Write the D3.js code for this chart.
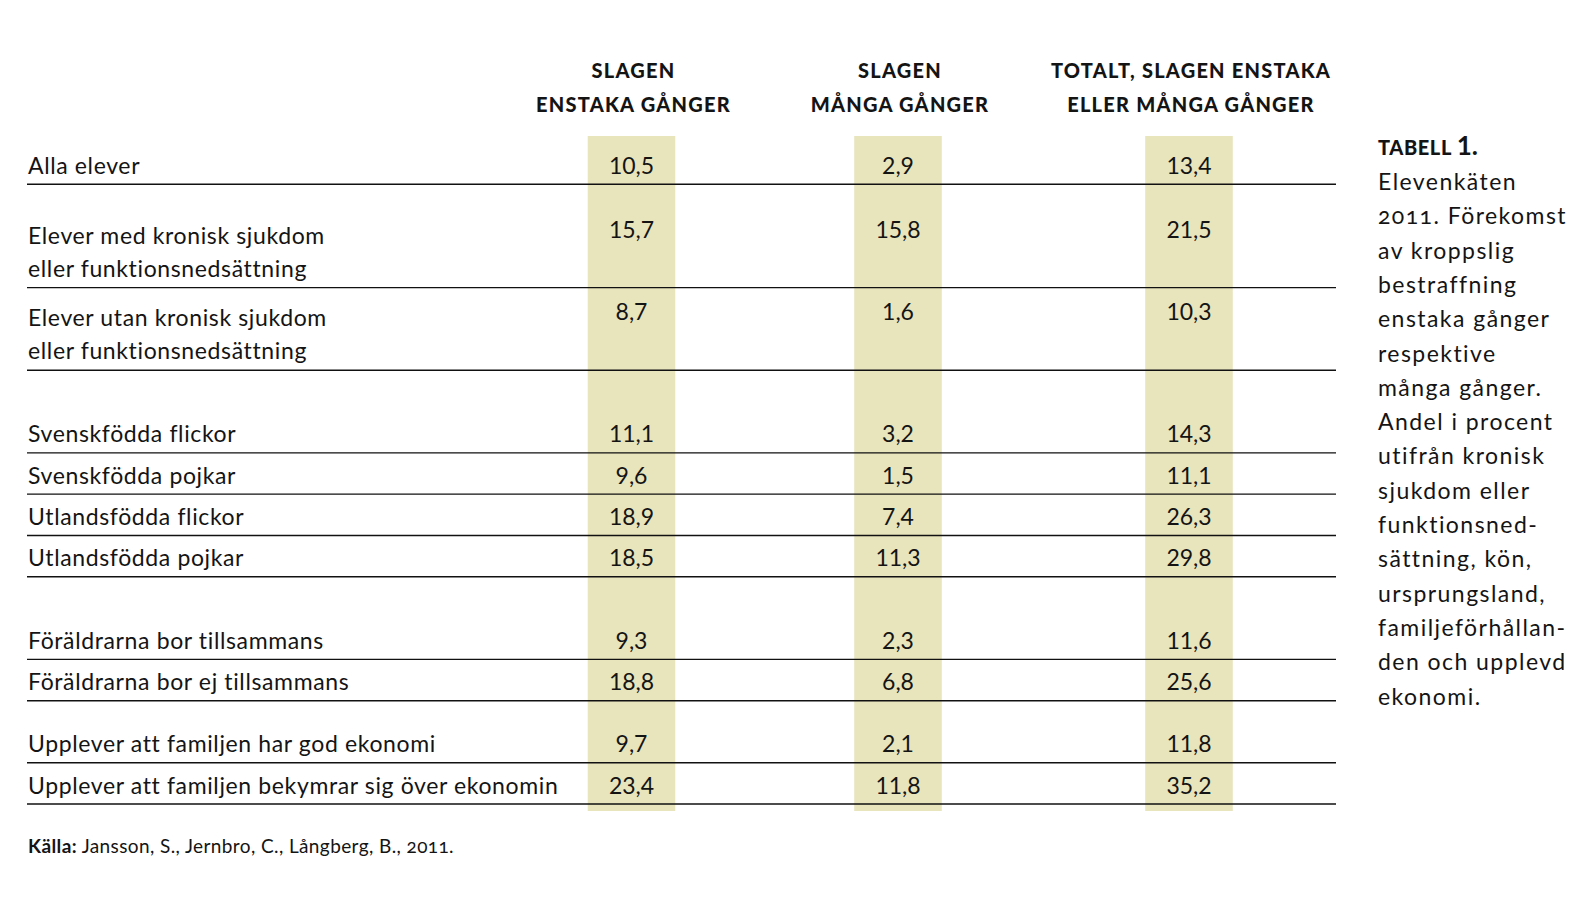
<!DOCTYPE html>
<html><head><meta charset="utf-8">
<script src="https://cdn.jsdelivr.net/npm/d3@7"></script>
<style>
body{margin:0;background:#fff}
svg{display:block}
text{font-family:Lato,"Open Sans",sans-serif;fill:#141414}
.onum{font-variant-numeric:oldstyle-nums}
</style>
</head><body>
<svg id="chart" width="1587" height="904"></svg>
<script>
// ---- data ----
const categories = [
  "Alla elever",
  "Elever med kronisk sjukdom\neller funktionsnedsättning",
  "Elever utan kronisk sjukdom\neller funktionsnedsättning",
  "Svenskfödda flickor",
  "Svenskfödda pojkar",
  "Utlandsfödda flickor",
  "Utlandsfödda pojkar",
  "Föräldrarna bor tillsammans",
  "Föräldrarna bor ej tillsammans",
  "Upplever att familjen har god ekonomi",
  "Upplever att familjen bekymrar sig över ekonomin"
];
const groups = [0, 1, 1, 2, 2, 2, 2, 3, 3, 4, 4];
const slagenEnstaka = [10.5, 15.7, 8.7, 11.1, 9.6, 18.9, 18.5, 9.3, 18.8, 9.7, 23.4];
const slagenManga   = [2.9, 15.8, 1.6, 3.2, 1.5, 7.4, 11.3, 2.3, 6.8, 2.1, 11.8];
const totalt        = [13.4, 21.5, 10.3, 14.3, 11.1, 26.3, 29.8, 11.6, 25.6, 11.8, 35.2];
const columnHeaders = [
  ["SLAGEN", "ENSTAKA GÅNGER"],
  ["SLAGEN", "MÅNGA GÅNGER"],
  ["TOTALT, SLAGEN ENSTAKA", "ELLER MÅNGA GÅNGER"]
];
const captionTitle = ["TABELL", "1."];
const captionLines = [
  "Elevenkäten", "2011. Förekomst", "av kroppslig", "bestraffning",
  "enstaka gånger", "respektive", "många gånger.", "Andel i procent",
  "utifrån kronisk", "sjukdom eller", "funktionsned-", "sättning, kön,",
  "ursprungsland,", "familjeförhållan-", "den och upplevd", "ekonomi."
];
const sourceLabel = "Källa:";
const sourceText = " Jansson, S., Jernbro, C., Långberg, B., 2011.";

// ---- layout ----
const svg = d3.select("#chart");
const groupGap = [0, 0.5, 1, 1, 0.5];
let cum = 0;
const rows = categories.map((c, i) => {
  const lines = c.split("\n");
  const starts = i === 0 || groups[i] !== groups[i - 1];
  cum += (starts ? groupGap[groups[i]] : 0) + lines.length;
  return { i, lines, bottom: cum };
});
const y = d3.scaleLinear().domain([0, cum]).range([143, 804]);
const x = d3.scaleLinear().domain([0, 1, 2]).range([631.5, 898, 1189]);
const bandW = 87.5;
const lineX0 = 27, lineX1 = 1336;
const series = [slagenEnstaka, slagenManga, totalt];
const fmt = v => d3.format(".1f")(v).replace(".", ",");

// column bands
svg.append("g").selectAll("rect").data(series).join("rect")
  .attr("x", (d, j) => x(j) - bandW / 2)
  .attr("width", bandW)
  .attr("y", y(0) - 7)
  .attr("height", y(cum) - y(0) + 14)
  .attr("fill", "#e8e4bc");

// row rules
svg.append("g").selectAll("line").data(rows).join("line")
  .attr("x1", lineX0).attr("x2", lineX1)
  .attr("y1", d => y(d.bottom)).attr("y2", d => y(d.bottom))
  .attr("stroke", "#111").attr("stroke-width", 1.4);

function fitSpacing(sel, target) {
  const node = sel.node();
  const w = node.getComputedTextLength();
  const n = node.textContent.length;
  return (target - w) / Math.max(1, n - 1);
}

// row labels
const lab = svg.append("g").attr("font-size", 23);
rows.forEach(r => {
  const n = r.lines.length;
  r.lines.forEach((t, k) => {
    const base = y(r.bottom) - (n === 1 ? 10.5 : 11 + (n - 1 - k) * 33);
    lab.append("text").attr("x", 28).attr("y", base).text(t);
  });
});
const longest = lab.selectAll("text").filter(function () { return this.textContent === categories[10]; });
lab.attr("letter-spacing", fitSpacing(longest, 529));

// numbers
const num = svg.append("g").attr("font-size", 23).attr("text-anchor", "middle");
series.forEach((s, j) => {
  num.selectAll(null).data(rows).join("text")
    .attr("x", x(j))
    .attr("y", d => d.lines.length === 1 ? y(d.bottom) - 10.5 : y(d.bottom) - 11 - (d.lines.length - 1) * 33 - 6)
    .text(d => fmt(s[d.i]));
});

// column headers
const hdr = svg.append("g").attr("font-size", 20).attr("font-weight", 900).attr("text-anchor", "middle");
columnHeaders.forEach((h, j) => {
  h.forEach((t, k) => {
    hdr.append("text").attr("x", x(j) + 2).attr("y", 78 + k * 34).text(t);
  });
});
const refH = hdr.selectAll("text").filter(function () { return this.textContent === "TOTALT, SLAGEN ENSTAKA"; });
hdr.attr("letter-spacing", fitSpacing(refH, 279));

// caption
const cap = svg.append("g");
const ct = cap.append("text").attr("x", 1378).attr("y", 155).attr("font-weight", 900);
ct.append("tspan").attr("font-size", 20).attr("letter-spacing", 0.6).text(captionTitle[0] + " ");
ct.append("tspan").attr("font-size", 26).attr("font-weight", 700).text(captionTitle[1]);
const capBody = cap.append("g").attr("font-size", 23).attr("class", "onum");
capBody.selectAll("text").data(captionLines).join("text")
  .attr("x", 1378)
  .attr("y", (d, i) => 190 + i * 34.3)
  .text(d => d);
const refC = capBody.selectAll("text").filter(d => d === "enstaka gånger");
capBody.attr("letter-spacing", fitSpacing(refC, 171));

// source
const src = svg.append("text").attr("x", 28).attr("y", 853).attr("font-size", 19).attr("class", "onum");
src.append("tspan").attr("font-weight", 700).text(sourceLabel);
src.append("tspan").text(sourceText);
const sw = src.node().getComputedTextLength();
src.attr("letter-spacing", (426 - sw) / (sourceLabel + sourceText).length);
</script>
</body></html>
